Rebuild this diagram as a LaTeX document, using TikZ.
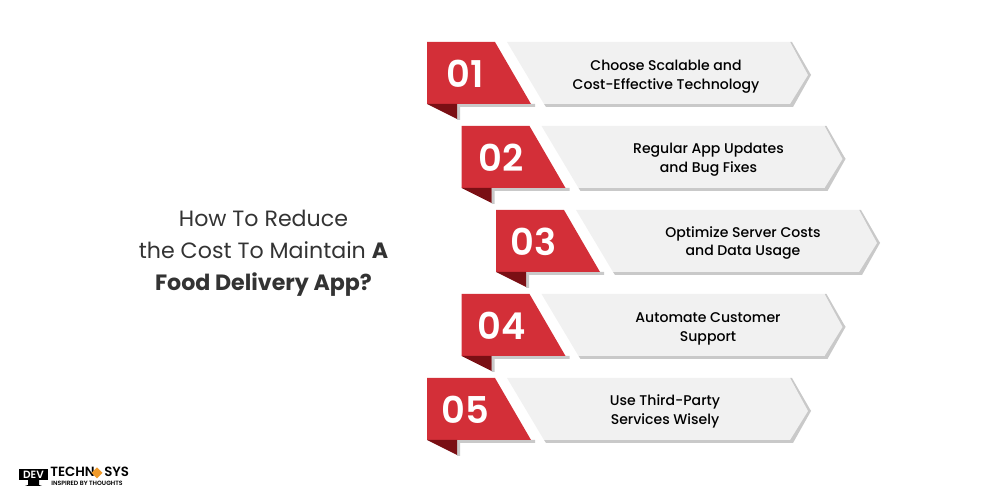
\documentclass[tikz,border=0pt]{standalone}
\usepackage{fontspec}
\setmainfont{Poppins}
\newfontfamily\medfont{Poppins Medium}
\newfontfamily\semifont{Poppins SemiBold}
\usepackage{tikz}
\usetikzlibrary{calc}

\definecolor{flagred}{HTML}{D32F38}
\definecolor{folddark}{HTML}{7A0F14}
\definecolor{boxgrey}{HTML}{F1F1F1}
\definecolor{edgegrey}{HTML}{C9C9C9}
\definecolor{titlegrey}{HTML}{333333}
\definecolor{logoorange}{HTML}{F09A2A}

\tikzset{
  flag/.style={fill=flagred},
  fold/.style={fill=folddark},
  box/.style={fill=boxgrey},
  edge/.style={fill=edgegrey},
  num/.style={text=white, font=\semifont\fontsize{21}{21}\selectfont, anchor=center},
  itemtext/.style={text=black, font=\medfont\fontsize{8}{10.8}\selectfont, align=center, anchor=center},
  titletext/.style={text=titlegrey, font=\fontsize{12.6}{18.1}\selectfont, align=center, anchor=center},
  logotext/.style={text=black, font=\semifont\fontsize{7.6}{7.6}\selectfont, inner sep=0, anchor=west}
}

\newcommand{\ribbonrow}{
  \fill[edge] (0.6,-1.24) -- (2.16,-1.24) -- (2.16,-1.3) -- (0.66,-1.3) -- (0.66,-1.56) -- (0.6,-1.56) -- cycle;
  \fill[flag] (0,0) -- (1.36,0) -- (2.08,-1.24) -- (0,-1.24) -- cycle;
  \fill[fold] (0,-1.24) -- (0.6,-1.54) -- (0.6,-1.24) -- cycle;
  \fill[edge] (2.34,-1.24) -- (2.38,-1.3) -- (7.32,-1.3) -- (7.68,-0.66) -- (7.26,-0.2) -- (7.26,-1.24) -- cycle;
  \fill[edge] (7.26,0) -- (7.3,0) -- (7.68,-0.66) -- (7.6,-0.66) -- cycle;
  \fill[box] (1.6,0) -- (7.26,0) -- (7.62,-0.66) -- (7.26,-1.24) -- (2.34,-1.24) -- cycle;
}

\begin{document}
\begin{tikzpicture}
  \useasboundingbox (0,0) rectangle (20,10);

  \node[titletext] (title) at (5.27,4.94) {How To Reduce\\the Cost To Maintain \textbf{A}\\\textbf{Food Delivery App?}};

  % first row
  \begin{scope}[shift={(8.54,9.16)}]
    \ribbonrow
    \node[num] (num1) at (0.77,-0.64) {01};
    \node[itemtext] (item1) at (4.78,-0.70) {Choose Scalable and\\Cost-Effective Technology};
  \end{scope}

  % second row
  \begin{scope}[shift={(9.23,7.48)}]
    \ribbonrow
    \node[num] (num2) at (0.80,-0.64) {02};
    \node[itemtext] (item2) at (4.94,-0.68) {Regular App Updates\\and Bug Fixes};
  \end{scope}

  % third row
  \begin{scope}[shift={(9.92,5.80)}]
    \ribbonrow
    \node[num] (num3) at (0.75,-0.64) {03};
    \node[itemtext] (item3) at (4.94,-0.66) {Optimize Server Costs\\and Data Usage};
  \end{scope}

  % fourth row
  \begin{scope}[shift={(9.23,4.12)}]
    \ribbonrow
    \node[num] (num4) at (0.81,-0.64) {04};
    \node[itemtext] (item4) at (4.93,-0.70) {Automate Customer\\Support};
  \end{scope}

  % fifth row
  \begin{scope}[shift={(8.54,2.44)}]
    \ribbonrow
    \node[num] (num5) at (0.77,-0.64) {05};
    \node[itemtext] (item5) at (4.76,-0.66) {Use Third-Party\\Services Wisely};
  \end{scope}

  % logo
  \fill[black] (0.38,0.62) rectangle (0.96,0.4);
  \fill[black] (0.56,0.4) -- (0.78,0.4) -- (0.78,0.3) -- (0.84,0.28) -- (0.5,0.28) -- (0.56,0.3) -- cycle;
  \node[text=white, font=\semifont\fontsize{6}{6}\selectfont, inner sep=0] (logodev) at (0.67,0.51) {DEV};
  \node[logotext] (logotech) at (1.0,0.56) {TECHN};
  \fill[logoorange] (1.94,0.65) -- (2.05,0.54) -- (1.94,0.43) -- (1.83,0.54) -- cycle;
  \node[logotext] (logosys) at (2.08,0.56) {SYS};
  \node[text=black, font=\semifont\fontsize{3.5}{3.5}\selectfont, inner sep=0, anchor=west] (logotag) at (1.02,0.33) {INSPIRED BY THOUGHTS};
\end{tikzpicture}
\end{document}
